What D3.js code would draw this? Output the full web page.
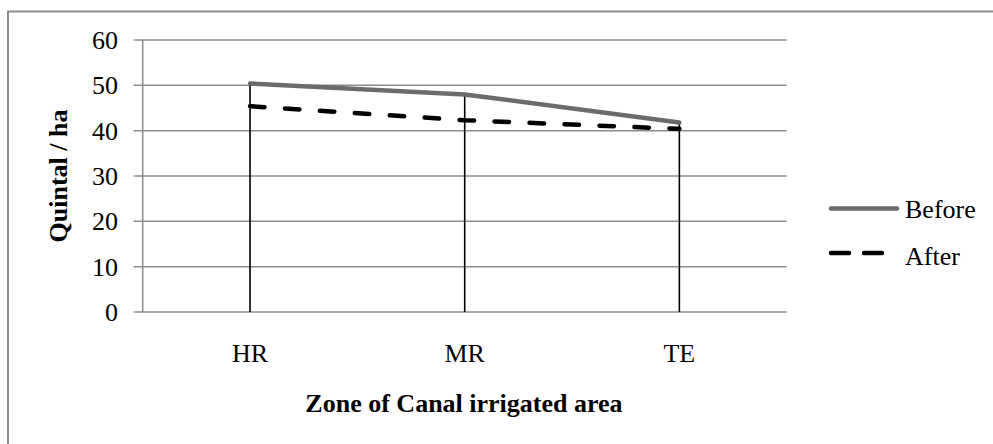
<!DOCTYPE html>
<html>
<head>
<meta charset="utf-8">
<script src="https://cdn.jsdelivr.net/npm/d3@7"></script>
<style>
  body { margin: 0; background: #fff; }
  text { font-family: "Liberation Serif", "Times New Roman", serif; fill: #000; }
</style>
</head>
<body>
<svg id="chart" width="993" height="444"></svg>
<script>
// chart data
const categories = ["HR", "MR", "TE"];
const beforeValues = [50.4, 48.0, 41.8];
const afterValues = [45.4, 42.3, 40.4];
const yTicks = [0, 10, 20, 30, 40, 50, 60];
const seriesNames = ["Before", "After"];

const svg = d3.select("#chart");
const plotLeft = 142.7, plotRight = 786.7, plotTop = 40, plotBottom = 312;
const fontSize = "26px";

const x = d3.scaleBand().domain(categories).range([plotLeft, plotRight]);
const y = d3.scaleLinear().domain([0, 60]).range([plotBottom, plotTop]);

// outer frame (runs off the right and bottom edges like the source)
svg.append("rect")
  .attr("x", 8).attr("y", 11.5)
  .attr("width", 1000).attr("height", 460)
  .attr("fill", "none").attr("stroke", "#8c8c8c").attr("stroke-width", 2);

// gridlines
svg.append("g").selectAll("line")
  .data(yTicks)
  .enter().append("line")
  .attr("x1", plotLeft - 9).attr("x2", plotRight)
  .attr("y1", d => y(d)).attr("y2", d => y(d))
  .attr("stroke", "#8c8c8c").attr("stroke-width", 1.5);

// y axis line
svg.append("line")
  .attr("x1", plotLeft).attr("x2", plotLeft)
  .attr("y1", plotTop).attr("y2", plotBottom)
  .attr("stroke", "#8c8c8c").attr("stroke-width", 1.5);

// y tick labels
svg.append("g").selectAll("text")
  .data(yTicks)
  .enter().append("text")
  .attr("x", 118).attr("y", d => y(d) + 9)
  .attr("text-anchor", "end")
  .style("font-size", fontSize)
  .text(d => d);

// category labels
svg.append("g").selectAll("text")
  .data(categories)
  .enter().append("text")
  .attr("x", d => x(d) + x.bandwidth() / 2)
  .attr("y", 362)
  .attr("text-anchor", "middle")
  .style("font-size", fontSize)
  .text(d => d);

// drop lines from the higher series down to zero
svg.append("g").selectAll("line")
  .data(categories)
  .enter().append("line")
  .attr("x1", d => x(d) + x.bandwidth() / 2).attr("x2", d => x(d) + x.bandwidth() / 2)
  .attr("y1", (d, i) => y(Math.max(beforeValues[i], afterValues[i])))
  .attr("y2", y(0))
  .attr("stroke", "#000").attr("stroke-width", 1.6);

const line = d3.line()
  .x((d, i) => x(categories[i]) + x.bandwidth() / 2)
  .y(d => y(d));

svg.append("path")
  .datum(beforeValues)
  .attr("d", line)
  .attr("fill", "none")
  .attr("stroke", "#6b6b6b").attr("stroke-width", 4.5)
  .attr("stroke-linecap", "round").attr("stroke-linejoin", "round");

svg.append("path")
  .datum(afterValues)
  .attr("d", line)
  .attr("fill", "none")
  .attr("stroke", "#000").attr("stroke-width", 4.5)
  .attr("stroke-dasharray", "14.5,20.5")
  .attr("stroke-linecap", "round");

// legend
const legend = svg.append("g");
legend.append("line")
  .attr("x1", 831).attr("x2", 897).attr("y1", 208.5).attr("y2", 208.5)
  .attr("stroke", "#6b6b6b").attr("stroke-width", 4.5).attr("stroke-linecap", "round");
legend.append("line")
  .attr("x1", 831).attr("x2", 884).attr("y1", 253).attr("y2", 253)
  .attr("stroke", "#000").attr("stroke-width", 4.5)
  .attr("stroke-dasharray", "18,15").attr("stroke-linecap", "round");
legend.selectAll("text")
  .data(seriesNames)
  .enter().append("text")
  .attr("x", 905)
  .attr("y", (d, i) => 218 + i * 47)
  .style("font-size", fontSize)
  .text(d => d);

// axis titles
svg.append("text")
  .attr("transform", "translate(67," + ((plotTop + plotBottom) / 2) + ") rotate(-90)")
  .attr("text-anchor", "middle")
  .style("font-size", fontSize).style("font-weight", "bold")
  .text("Quintal / ha");

svg.append("text")
  .attr("x", 464).attr("y", 412)
  .attr("text-anchor", "middle")
  .style("font-size", fontSize).style("font-weight", "bold")
  .text("Zone of Canal irrigated area");
</script>
</body>
</html>
